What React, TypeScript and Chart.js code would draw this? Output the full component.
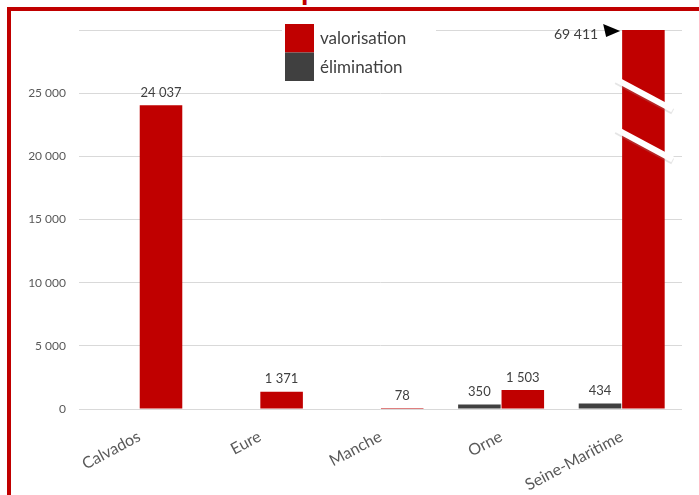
import React, { useEffect, useRef } from "react";
import { Chart, registerables } from "chart.js";

Chart.register(...registerables);

const categories = ["Calvados", "Eure", "Manche", "Orne", "Seine-Maritime"];
const elimination: (number | null)[] = [null, null, null, 350, 434];
const valorisation: (number | null)[] = [24037, 1371, 78, 1503, 69411];
const yTicks = [0, 5000, 10000, 15000, 20000, 25000, 30000];
const yMax = 30000;
const titleText = "Exportations";
const legendLabels = ["valorisation", "élimination"];

const RED = "#c00000";
const GREY = "#404040";
const FONT = "Lato, 'Open Sans', sans-serif";

function fmt(v: number): string {
  return String(Math.round(v)).replace(/\B(?=(\d{3})+(?!\d))/g, " ");
}

const overlayPlugin = {
  id: "overlay",
  afterDatasetsDraw(chart: any) {
    const ctx = chart.ctx;
    const yScale = chart.scales.y;
    ctx.save();
    ctx.font = `13px ${FONT}`;
    ctx.fillStyle = "#404040";
    ctx.textAlign = "center";
    ctx.textBaseline = "bottom";
    chart.data.datasets.forEach((ds: any, di: number) => {
      const meta = chart.getDatasetMeta(di);
      meta.data.forEach((bar: any, i: number) => {
        const v = ds.data[i];
        if (v === null || v === undefined) return;
        if (v > yMax) {
          const left = bar.x - bar.width / 2;
          const right = bar.x + bar.width / 2;
          const top = yScale.getPixelForValue(yMax);
          const breaks = [
            [26100, 23700],
            [22150, 19750],
          ];
          breaks.forEach(([a, b]) => {
            const y1 = yScale.getPixelForValue(a);
            const y2 = yScale.getPixelForValue(b);
            ctx.save();
            ctx.lineCap = "butt";
            ctx.strokeStyle = "rgba(150,150,150,0.25)";
            ctx.lineWidth = 6;
            ctx.beginPath();
            ctx.moveTo(left - 6, y1 + 2);
            ctx.lineTo(right + 8, y2 + 2);
            ctx.stroke();
            ctx.strokeStyle = "#ffffff";
            ctx.lineWidth = 6;
            ctx.beginPath();
            ctx.moveTo(left - 6, y1);
            ctx.lineTo(right + 8, y2);
            ctx.stroke();
            ctx.restore();
          });
          ctx.save();
          ctx.fillStyle = "#000000";
          ctx.beginPath();
          ctx.moveTo(left - 2, top + 1);
          ctx.lineTo(left - 19, top - 6);
          ctx.lineTo(left - 16, top + 7);
          ctx.closePath();
          ctx.fill();
          ctx.restore();
          ctx.save();
          ctx.font = `14px ${FONT}`;
          ctx.textAlign = "right";
          ctx.textBaseline = "middle";
          ctx.fillText(fmt(v), left - 24, top + 4);
          ctx.restore();
        } else {
          ctx.fillText(fmt(v), bar.x, bar.y - 6);
        }
      });
    });
    const lx = 284;
    const ly = 23;
    ctx.fillStyle = "#ffffff";
    ctx.fillRect(lx - 2, ly - 3, 154, 63);
    const colors = [RED, GREY];
    legendLabels.forEach((lab, i) => {
      ctx.fillStyle = colors[i];
      ctx.fillRect(lx + 1, ly + 1 + i * 28.5, 29, 28.5);
      ctx.fillStyle = "#404040";
      ctx.font = `17px ${FONT}`;
      ctx.textAlign = "left";
      ctx.textBaseline = "middle";
      ctx.fillText(lab, lx + 36, ly + 16 + i * 28.5);
    });
    ctx.restore();
  },
};

export default function App() {
  const ref = useRef<HTMLCanvasElement | null>(null);
  useEffect(() => {
    if (!ref.current) return;
    const chart = new Chart(ref.current, {
      type: "bar",
      data: {
        labels: categories,
        datasets: [
          {
            label: legendLabels[1],
            data: elimination,
            backgroundColor: GREY,
            categoryPercentage: 0.72,
            barPercentage: 0.98,
          },
          {
            label: legendLabels[0],
            data: valorisation,
            backgroundColor: RED,
            categoryPercentage: 0.72,
            barPercentage: 0.98,
          },
        ],
      } as any,
      options: {
        animation: false,
        responsive: false,
        layout: { padding: { left: 0, top: 30, right: 17, bottom: 0 } },
        plugins: {
          legend: { display: false },
          tooltip: { enabled: false },
          title: { display: false },
        },
        scales: {
          x: {
            grid: { display: false },
            border: { display: false },
            ticks: {
              autoSkip: false,
              minRotation: 28,
              maxRotation: 28,
              padding: 10,
              color: "#595959",
              font: { family: FONT, size: 16 },
            },
            afterFit: (s: any) => {
              s.height = 86;
            },
          },
          y: {
            min: 0,
            max: yMax,
            afterBuildTicks: (s: any) => {
              s.ticks = yTicks.map((v) => ({ value: v }));
            },
            grid: { color: "#d9d9d9", drawTicks: false, lineWidth: 1 },
            border: { display: false },
            ticks: {
              padding: 13,
              color: "#595959",
              font: { family: FONT, size: 12 },
              callback: (v: any) => (Number(v) >= yMax ? "" : fmt(Number(v))),
            },
            afterFit: (s: any) => {
              s.width = 79;
            },
          },
        },
      } as any,
      plugins: [overlayPlugin],
    });
    return () => chart.destroy();
  }, []);

  return (
    <div
      style={{
        position: "fixed",
        left: 0,
        top: 0,
        width: 699,
        height: 495,
        overflow: "hidden",
        background: "#ffffff",
      }}
    >
      <div
        style={{
          position: "absolute",
          left: 7,
          top: 7,
          width: 800,
          height: 700,
          border: `4px solid ${RED}`,
          boxSizing: "border-box",
        }}
      />
      <div
        style={{
          position: "absolute",
          left: 268,
          top: -29,
          font: `bold 30px ${FONT}`,
          color: RED,
          lineHeight: "34px",
          whiteSpace: "nowrap",
        }}
      >
        {titleText}
      </div>
      <canvas
        ref={ref}
        width={699}
        height={495}
        style={{ position: "absolute", left: 0, top: 0, width: 699, height: 495 }}
      />
    </div>
  );
}
